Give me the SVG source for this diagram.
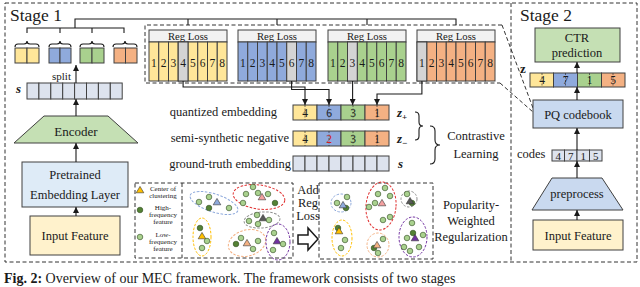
<svg xmlns="http://www.w3.org/2000/svg" xmlns:xlink="http://www.w3.org/1999/xlink" width="640" height="287" viewBox="0 0 640 287">
<style>
.t{font-family:"Liberation Serif","Times New Roman",serif;fill:#1a1a1a}
.bx{stroke:#404040;stroke-width:1}
.dash{fill:none;stroke:#333;stroke-width:1;stroke-dasharray:4 2.5}
.ln{fill:none;stroke:#1a1a1a;stroke-width:1.1}
.mid{stroke:#333;stroke-width:0.7;stroke-dasharray:2 1.5}
.el{fill:none;stroke-width:1;stroke-dasharray:2.5 1.5}
.hi{fill:#548235;stroke:#2e4a1e;stroke-width:0.6}
.lo{fill:#a9d18e;stroke:#2e4a1e;stroke-width:0.6}
</style>
<defs>
<marker id="ah" markerWidth="6" markerHeight="6" refX="6" refY="3" orient="auto" markerUnits="userSpaceOnUse"><path d="M0,0 L6,3 L0,6 z" fill="#1a1a1a"/></marker>
<g id="c8" class="bx">
<rect x="0" y="42" width="9.75" height="39"/><rect x="9.75" y="42" width="9.75" height="39"/><rect x="19.5" y="42" width="9.75" height="39"/><rect x="29.25" y="42" width="9.75" height="39"/><rect x="39" y="42" width="9.75" height="39"/><rect x="48.75" y="42" width="9.75" height="39"/><rect x="58.5" y="42" width="9.75" height="39"/><rect x="68.25" y="42" width="9.75" height="39"/>
</g>
<g id="n8" class="t" font-size="11.5" text-anchor="middle">
<text x="4.9" y="66.5">1</text><text x="14.6" y="66.5">2</text><text x="24.4" y="66.5">3</text><text x="34.1" y="66.5">4</text><text x="43.9" y="66.5">5</text><text x="53.6" y="66.5">6</text><text x="63.4" y="66.5">7</text><text x="73.1" y="66.5">8</text>
</g>
<g id="hdr"><rect x="0" y="30" width="78" height="12" fill="#f2f2f2" class="bx"/><text x="39" y="39.5" class="t" font-size="10.7" text-anchor="middle">Reg Loss</text></g>
<path id="tri" d="M0,-3.6 L3.8,2.8 L-3.8,2.8 Z" stroke="#333" stroke-width="0.6"/>
<circle id="hc" r="2.8" class="hi"/>
<circle id="lc" r="2.8" class="lo"/>
</defs>

<rect width="640" height="287" fill="#fff"/>

<!-- frames -->
<g id="frames">
<path class="dash" d="M5,3 H637 V262 H5 Z M511,3 V262"/>
<text x="10" y="21" class="t" font-size="17.5">Stage 1</text>
<text x="520" y="21" class="t" font-size="17.5">Stage 2</text>
</g>

<!-- stage 1 left column -->
<g id="groups">
<rect x="15" y="48" width="12" height="15" fill="#ffe699" class="bx"/><rect x="27" y="48" width="12" height="15" fill="#ffe699" class="bx"/>
<rect x="49" y="48" width="11" height="15" fill="#8faadc" class="bx"/><rect x="60" y="48" width="11" height="15" fill="#8faadc" class="bx"/>
<rect x="80" y="48" width="12" height="15" fill="#a9d18e" class="bx"/><rect x="92" y="48" width="12" height="15" fill="#a9d18e" class="bx"/>
<rect x="114" y="48" width="11.5" height="15" fill="#f4b183" class="bx"/><rect x="125.5" y="48" width="11.5" height="15" fill="#f4b183" class="bx"/>
</g>
<g id="svec">
<text x="16" y="93" class="t" font-size="13" font-weight="bold" font-style="italic">s</text>
<g fill="#dde3ee" class="bx">
<rect x="27" y="83" width="11.9" height="16"/><rect x="38.9" y="83" width="11.9" height="16"/><rect x="50.8" y="83" width="11.9" height="16"/><rect x="62.7" y="83" width="11.9" height="16"/><rect x="74.6" y="83" width="11.9" height="16"/><rect x="86.5" y="83" width="11.9" height="16"/><rect x="98.4" y="83" width="11.9" height="16"/><rect x="110.3" y="83" width="11.9" height="16"/>
</g>
<text x="52" y="80" class="t" font-size="11">split</text>
</g>
<g id="encoder">
<polygon points="44,116 108,116 138,143 14,143" fill="#c5e0b4" class="bx"/>
<text x="76" y="136" class="t" font-size="13" text-anchor="middle">Encoder</text>
</g>
<g id="pretrained">
<rect x="22" y="162" width="106" height="45" fill="#deebf7" class="bx"/>
<text x="75" y="179" class="t" font-size="12.5" text-anchor="middle">Pretrained</text>
<text x="75" y="199" class="t" font-size="12.5" text-anchor="middle">Embedding Layer</text>
</g>
<g id="input1">
<rect x="30" y="216" width="90" height="39" fill="#fff2cc" class="bx"/>
<text x="75" y="240" class="t" font-size="12.5" text-anchor="middle">Input Feature</text>
</g>

<!-- reg loss blocks -->
<g id="reg1" transform="translate(149,0)"><use xlink:href="#hdr"/><use xlink:href="#c8" fill="#ffe699"/><rect x="29.25" y="42" width="9.75" height="39" fill="#d4d4d4" class="bx"/><use xlink:href="#n8"/></g>
<g id="reg2" transform="translate(238,0)"><use xlink:href="#hdr"/><use xlink:href="#c8" fill="#8faadc"/><rect x="48.75" y="42" width="9.75" height="39" fill="#d4d4d4" class="bx"/><use xlink:href="#n8"/></g>
<g id="reg3" transform="translate(328,0)"><use xlink:href="#hdr"/><use xlink:href="#c8" fill="#a9d18e"/><rect x="19.5" y="42" width="9.75" height="39" fill="#d4d4d4" class="bx"/><use xlink:href="#n8"/></g>
<g id="reg4" transform="translate(417,0)"><use xlink:href="#hdr"/><use xlink:href="#c8" fill="#f4b183"/><rect x="0" y="42" width="9.75" height="39" fill="#d4d4d4" class="bx"/><use xlink:href="#n8"/></g>
<path class="dash" d="M502,25 H145 V83 H500 M502,25 L533,108 M500,83 L533,112"/>

<!-- z rows -->
<g id="zplus">
<text x="277" y="116" class="t" font-size="12.5" text-anchor="end">quantized embedding</text>
<rect x="293" y="105" width="24" height="15" fill="#ffe699" class="bx"/><rect x="317" y="105" width="24" height="15" fill="#8faadc" class="bx"/><rect x="341" y="105" width="24" height="15" fill="#a9d18e" class="bx"/><rect x="365" y="105" width="24" height="15" fill="#f4b183" class="bx"/>
<path class="mid" d="M305,105 V120 M329,105 V120 M353,105 V120 M377,105 V120"/>
<g class="t" font-size="11.5" text-anchor="middle"><text x="305" y="116.5">4</text><text x="329" y="116.5">6</text><text x="353" y="116.5">3</text><text x="377" y="116.5">1</text></g>
<text x="397" y="117" class="t" font-size="13" font-weight="bold" font-style="italic">z<tspan font-size="9" font-style="normal" dy="3">+</tspan></text>
</g>
<g id="zminus">
<text x="289" y="142" class="t" font-size="12.5" text-anchor="end">semi-synthetic negative</text>
<rect x="293" y="131" width="24" height="15" fill="#ffe699" class="bx"/><rect x="317" y="131" width="24" height="15" fill="#8faadc" class="bx"/><rect x="341" y="131" width="24" height="15" fill="#a9d18e" class="bx"/><rect x="365" y="131" width="24" height="15" fill="#f4b183" class="bx"/>
<path class="mid" d="M305,131 V146 M329,131 V146 M353,131 V146 M377,131 V146"/>
<g class="t" font-size="11.5" text-anchor="middle"><text x="305" y="142.5">4</text><text x="329" y="142.5" style="fill:#d02020">2</text><text x="353" y="142.5">3</text><text x="377" y="142.5">1</text></g>
<text x="397" y="143" class="t" font-size="13" font-weight="bold" font-style="italic">z<tspan font-size="9" font-style="normal" dy="3">−</tspan></text>
</g>
<g id="sgt">
<text x="291" y="168" class="t" font-size="12.5" text-anchor="end">ground-truth embedding</text>
<g fill="#dde3ee" class="bx">
<rect x="293" y="156" width="12" height="15"/><rect x="305" y="156" width="12" height="15"/><rect x="317" y="156" width="12" height="15"/><rect x="329" y="156" width="12" height="15"/><rect x="341" y="156" width="12" height="15"/><rect x="353" y="156" width="12" height="15"/><rect x="365" y="156" width="12" height="15"/><rect x="377" y="156" width="12" height="15"/>
</g>
<text x="398" y="168" class="t" font-size="13" font-weight="bold" font-style="italic">s</text>
</g>
<g id="contrastive">
<path class="ln" d="M415,112 Q419,112 419,116 V122 Q419,126 423,126 Q419,126 419,130 V136 Q419,140 415,140"/>
<path class="ln" d="M430,126 Q435,126 435,131 V140 Q435,145 440,145 Q435,145 435,150 V159 Q435,164 430,164"/>
<text x="476" y="140" class="t" font-size="12.5" text-anchor="middle">Contrastive</text>
<text x="476" y="158" class="t" font-size="12.5" text-anchor="middle">Learning</text>
</g>

<!-- regularization panels -->
<g id="legend">
<path class="dash" d="M135,183 H293 V258 H135 Z M182,183 V258"/>
<use xlink:href="#tri" x="140" y="190" fill="#ffc000"/>
<use xlink:href="#hc" x="140" y="210"/>
<use xlink:href="#lc" x="140" y="237"/>
<g class="t" font-size="7" text-anchor="middle">
<text x="163" y="191">Center of</text><text x="163" y="198">clustering</text>
<text x="163" y="210">High-</text><text x="163" y="217">frequency</text><text x="163" y="224">feature</text>
<text x="163" y="237">Low-</text><text x="163" y="244">frequency</text><text x="163" y="251">feature</text>
</g>
</g>
<g id="scatter1">
<ellipse cx="214" cy="203" rx="25" ry="9" transform="rotate(18 214 203)" class="el" stroke="#8faadc"/>
<ellipse cx="259" cy="197" rx="26" ry="12" transform="rotate(8 259 197)" class="el" stroke="#e03030"/>
<ellipse cx="262" cy="220" rx="18" ry="8" transform="rotate(-5 262 220)" class="el" stroke="#909090"/>
<ellipse cx="202" cy="237" rx="9" ry="19" class="el" stroke="#ffc000"/>
<ellipse cx="247" cy="243" rx="19" ry="13" transform="rotate(-15 247 243)" class="el" stroke="#f4b183"/>
<ellipse cx="278" cy="242" rx="12" ry="18" class="el" stroke="#7030a0"/>
<use xlink:href="#lc" x="199" y="202"/><use xlink:href="#lc" x="209" y="197"/><use xlink:href="#hc" x="209" y="208"/><use xlink:href="#tri" x="217" y="202" fill="#8faadc"/><use xlink:href="#lc" x="229" y="208"/>
<use xlink:href="#lc" x="246" y="194"/><use xlink:href="#lc" x="253" y="187"/><use xlink:href="#lc" x="258" y="193"/><use xlink:href="#tri" x="262" y="197" fill="#f4a0a0"/><use xlink:href="#lc" x="268" y="194"/><use xlink:href="#lc" x="243" y="203"/><use xlink:href="#hc" x="275" y="203"/>
<use xlink:href="#lc" x="249" y="221"/><use xlink:href="#lc" x="257" y="215"/><use xlink:href="#tri" x="263" y="218" fill="#595959"/><use xlink:href="#lc" x="269" y="220"/><use xlink:href="#lc" x="258" y="224"/>
<use xlink:href="#hc" x="200" y="228"/><use xlink:href="#tri" x="202" y="236" fill="#ffc000"/><use xlink:href="#lc" x="207" y="241"/><use xlink:href="#lc" x="202" y="248"/>
<use xlink:href="#hc" x="236" y="244"/><use xlink:href="#lc" x="241" y="238"/><use xlink:href="#tri" x="247" y="243" fill="#f4b183"/><use xlink:href="#lc" x="258" y="241"/><use xlink:href="#lc" x="253" y="249"/>
<use xlink:href="#lc" x="274" y="233"/><use xlink:href="#tri" x="277" y="241" fill="#7030a0"/><use xlink:href="#lc" x="283" y="244"/><use xlink:href="#lc" x="273" y="250"/>
</g>
<g id="addreg">
<g class="t" font-size="12.5" text-anchor="middle"><text x="308" y="194">Add</text><text x="308" y="207">Reg</text><text x="308" y="220">Loss</text></g>
<polygon points="298,235 308,235 308,228 318,239 308,250 308,244 298,244" fill="#fff" stroke="#1a1a1a" stroke-width="1.5"/>
</g>
<g id="scatter2">
<path class="dash" d="M319,183 H433 V259 H319 Z"/>
<ellipse cx="341" cy="203" rx="10" ry="9" class="el" stroke="#8faadc"/>
<ellipse cx="381" cy="206" rx="15" ry="24" transform="rotate(5 381 206)" class="el" stroke="#e03030"/>
<ellipse cx="409" cy="199" rx="8" ry="8" class="el" stroke="#909090"/>
<ellipse cx="342" cy="238" rx="10" ry="18" class="el" stroke="#ffc000"/>
<ellipse cx="378" cy="245" rx="11" ry="12" class="el" stroke="#f4b183"/>
<ellipse cx="413" cy="237" rx="14" ry="20" class="el" stroke="#7030a0"/>
<use xlink:href="#lc" x="337" y="203"/><use xlink:href="#lc" x="347" y="197"/><use xlink:href="#hc" x="346" y="208"/><use xlink:href="#tri" x="343" y="205" fill="#8faadc"/>
<use xlink:href="#lc" x="378" y="194"/><use xlink:href="#lc" x="385" y="188"/><use xlink:href="#lc" x="390" y="196"/><use xlink:href="#lc" x="369" y="207"/><use xlink:href="#lc" x="375" y="203"/><use xlink:href="#tri" x="382" y="203" fill="#f4a0a0"/><use xlink:href="#lc" x="383" y="220"/><use xlink:href="#lc" x="390" y="217"/>
<use xlink:href="#lc" x="407" y="194"/><use xlink:href="#hc" x="412" y="203"/><use xlink:href="#tri" x="410" y="201" fill="#595959"/>
<use xlink:href="#hc" x="338" y="228"/><use xlink:href="#tri" x="339" y="231" fill="#ffc000"/><use xlink:href="#lc" x="345" y="240"/><use xlink:href="#lc" x="341" y="248"/>
<use xlink:href="#hc" x="374" y="248"/><use xlink:href="#tri" x="377" y="245" fill="#f4b183"/><use xlink:href="#lc" x="383" y="239"/><use xlink:href="#lc" x="378" y="253"/>
<use xlink:href="#lc" x="412" y="223"/><use xlink:href="#lc" x="407" y="238"/><use xlink:href="#hc" x="413" y="233"/><use xlink:href="#tri" x="415" y="238" fill="#7030a0"/><use xlink:href="#lc" x="423" y="235"/><use xlink:href="#lc" x="404" y="247"/><use xlink:href="#lc" x="410" y="251"/><use xlink:href="#lc" x="419" y="247"/>
</g>
<g id="pwr" class="t" font-size="12.5" text-anchor="middle">
<text x="471" y="209">Popularity-</text><text x="471" y="225">Weighted</text><text x="471" y="241">Regularization</text>
</g>

<!-- stage 2 -->
<g id="ctr">
<rect x="535" y="28" width="85" height="34" fill="#c5e0b4" class="bx"/>
<text x="577" y="42" class="t" font-size="12.5" text-anchor="middle">CTR</text>
<text x="577" y="57" class="t" font-size="12.5" text-anchor="middle">prediction</text>
</g>
<g id="z2">
<text x="520" y="73" class="t" font-size="13" font-weight="bold">z</text>
<rect x="530" y="73" width="23.5" height="14" fill="#ffe699" class="bx"/><rect x="553.5" y="73" width="24" height="14" fill="#8faadc" class="bx"/><rect x="577.5" y="73" width="24" height="14" fill="#a9d18e" class="bx"/><rect x="601.5" y="73" width="23.5" height="14" fill="#f4b183" class="bx"/>
<path class="mid" d="M542,73 V87 M565.5,73 V87 M589.5,73 V87 M613,73 V87"/>
<g class="t" font-size="11.5" text-anchor="middle"><text x="542" y="84">4</text><text x="565.5" y="84">7</text><text x="589.5" y="84">1</text><text x="613" y="84">5</text></g>
</g>
<g id="pq">
<rect x="533" y="100" width="90" height="28" fill="#c9d9ef" class="bx"/>
<text x="578" y="119" class="t" font-size="12.5" text-anchor="middle">PQ codebook</text>
</g>
<g id="codes">
<text x="517" y="158" class="t" font-size="12.5">codes</text>
<g fill="#dde3ee" class="bx"><rect x="552" y="150" width="12.5" height="11"/><rect x="564.5" y="150" width="12.5" height="11"/><rect x="577" y="150" width="12.5" height="11"/><rect x="589.5" y="150" width="12.5" height="11"/></g>
<g class="t" font-size="11" text-anchor="middle"><text x="558.2" y="159.5">4</text><text x="570.7" y="159.5">7</text><text x="583.2" y="159.5">1</text><text x="595.7" y="159.5">5</text></g>
</g>
<g id="preprocess">
<polygon points="552,178 602,178 623,210 532,210" fill="#c9d9ef" class="bx"/>
<text x="577" y="198" class="t" font-size="12.5" text-anchor="middle">preprocess</text>
</g>
<g id="input2">
<rect x="533" y="220" width="90" height="30" fill="#fff2cc" class="bx"/>
<text x="578" y="240" class="t" font-size="12.5" text-anchor="middle">Input Feature</text>
</g>

<!-- connectors -->
<g id="connectors" class="ln">
<path d="M75,28 V19 H456 V25 M188,19 V25 M277,19 V25 M367,19 V25"/>
<path d="M27,33 V28 H124 V33 M60,28 V33 M92,28 V33"/>
<path d="M15,47 Q15,44 18,44 H24 Q27,44 27,41 Q27,44 30,44 H36 Q39,44 39,47"/>
<path d="M49,47 Q49,44 52,44 H57 Q60,44 60,41 Q60,44 63,44 H68 Q71,44 71,47"/>
<path d="M80,47 Q80,44 83,44 H89 Q92,44 92,41 Q92,44 95,44 H101 Q104,44 104,47"/>
<path d="M113,47 Q113,44 116,44 H122 Q125,44 125,41 Q125,44 128,44 H134 Q137,44 137,47"/>
<path d="M76,83 V65" marker-end="url(#ah)"/>
<path d="M76,116 V99" marker-end="url(#ah)"/>
<path d="M76,162 V143" marker-end="url(#ah)"/>
<path d="M76,216 V207" marker-end="url(#ah)"/>
<path d="M183.1,81 V87 H305 V105" marker-end="url(#ah)"/>
<path d="M291.6,81 V89.5 H329 V105" marker-end="url(#ah)"/>
<path d="M352.6,81 V105" marker-end="url(#ah)"/>
<path d="M421.9,81 V94 H377 V105" marker-end="url(#ah)"/>
<path d="M577,73 V62" marker-end="url(#ah)"/>
<path d="M577,100 V87" marker-end="url(#ah)"/>
<path d="M577,150 V128" marker-end="url(#ah)"/>
<path d="M577,178 V161" marker-end="url(#ah)"/>
<path d="M577,220 V210" marker-end="url(#ah)"/>
</g>

<text x="4" y="282.5" class="t" font-size="14"><tspan font-weight="bold">Fig. 2:</tspan> Overview of our MEC framework. The framework consists of two stages</text>
</svg>
